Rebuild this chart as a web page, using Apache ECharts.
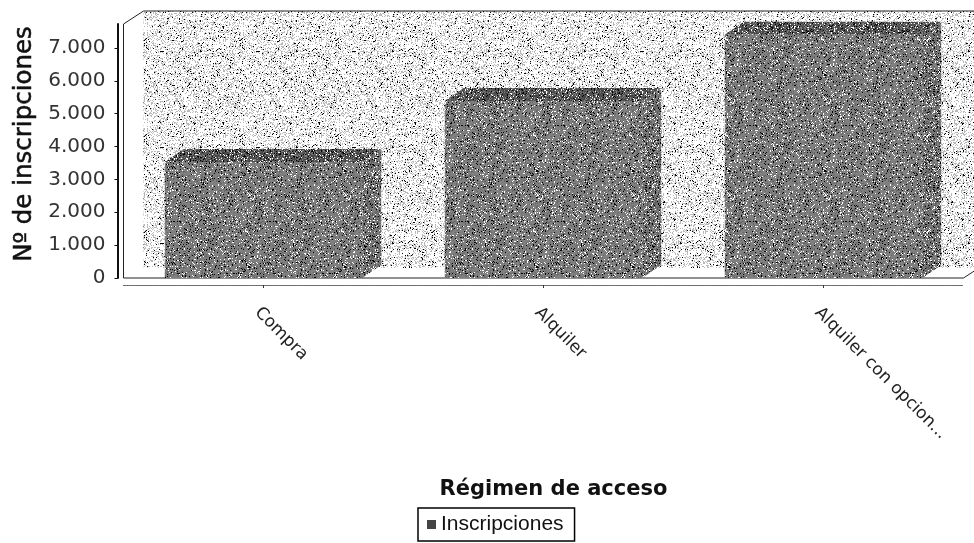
<!DOCTYPE html>
<html><head><meta charset="utf-8">
<style>html,body{margin:0;padding:0;background:#fff}#c{width:974px;height:543px}</style>
<script src="https://cdn.jsdelivr.net/npm/echarts@6/dist/echarts.min.js"></script>
</head><body><div id="c"></div>
<script>
const categories = ['Compra', 'Alquiler', 'Alquiler con opcion...'];
const inscripciones = [3530, 5390, 7400];
const yTicks = [0, 1000, 2000, 3000, 4000, 5000, 6000, 7000];
const seriesName = 'Inscripciones';
const xTitle = 'Régimen de acceso';
const yTitle = 'Nº de inscripciones';
const yMax = 7730;

const DX = 20, DY = -13;
function tile(size, palette, seed) {
  const c = document.createElement('canvas');
  c.width = c.height = size;
  const g = c.getContext('2d');
  let s = seed >>> 0;
  for (let y = 0; y < size; y++) for (let x = 0; x < size; x++) {
    s = (Math.imul(s, 1664525) + 1013904223) >>> 0;
    const h = (s >>> 16) % palette.length;
    g.fillStyle = palette[h];
    g.fillRect(x, y, 1, 1);
  }
  return { image: c, repeat: 'repeat' };
}
const W = '#fff', K = '#000', G = '#b8b8b8', D = '#808080';
const wallFill = tile(96, [W,W,W,W,W,W,W,W,W,W,W,W,W,W,G,G,G,G,G,G,K], 7);
const frontFill = tile(96, [K,W,D,D,D,'#666',D,D,D,D,'#666',D], 11);
const topFill = tile(96, [K,D,'#444',D,'#555',W,'#444','#555','#555','#444'], 23);
const sideFill = tile(96, [K,D,D,W,'#555',D,'#666',D,'#666','#666'], 37);

function renderWall(params, api) {
  const band = api.size([1, 0])[0];
  const p0 = api.coord([0, 0]), pTop = api.coord([0, yMax]);
  const L = p0[0] - band / 2, R = L + band * 3, B = p0[1], T = pTop[1];
  return { type: 'group', silent: true, children: [
    { type: 'polygon', shape: { points: [[L+DX,T+DY],[R+DX,T+DY],[R+DX,B+DY+3],[L+DX,B+DY+3]] }, style: { fill: wallFill } },
    { type: 'polygon', shape: { points: [[L,B],[L+DX,B+DY+3],[R+DX,B+DY+3],[R,B]] }, style: { fill: '#fff' } },
    { type: 'polyline', shape: { points: [[L,B],[L,T],[L+DX,T+DY],[R+DX,T+DY]] }, style: { fill: 'none', stroke: '#222', lineWidth: 1 } },
    { type: 'polyline', shape: { points: [[L,B],[R,B],[R+DX,B+DY]] }, style: { fill: 'none', stroke: '#222', lineWidth: 1 } }
  ]};
}
function renderBar(params, api) {
  const band = api.size([1, 0])[0], w = band * 0.705;
  const c = api.coord([api.value(0), api.value(1)]), b = api.coord([api.value(0), 0]);
  const x0 = c[0] - w / 2, x1 = c[0] + w / 2, t = c[1], B = b[1];
  return { type: 'group', children: [
    { type: 'polygon', shape: { points: [[x1,t],[x1+DX-1,t+DY],[x1+DX-1,B+DY],[x1,B]] }, style: { fill: sideFill } },
    { type: 'polygon', shape: { points: [[x0,t],[x0+DX-1,t+DY],[x1+DX-1,t+DY],[x1,t]] }, style: { fill: topFill } },
    { type: 'rect', shape: { x: x0, y: t, width: w, height: B - t }, style: { fill: frontFill } }
  ]};
}
const chart = echarts.init(document.getElementById('c'), null, { renderer: 'canvas' });
chart.setOption({
  animation: false,
  backgroundColor: '#fff',
  grid: { left: 123.5, top: 24, width: 840, height: 254, outerBoundsMode: 'none' },
  legend: {
    data: [{ name: seriesName, icon: 'rect', itemStyle: { color: '#444' } }],
    left: 418, top: 508, itemWidth: 9, itemHeight: 9, itemGap: 6,
    borderColor: '#000', borderWidth: 1.5, borderRadius: 0,
    padding: [6, 11, 6, 9],
    textStyle: { fontFamily: 'Liberation Sans', fontSize: 21, color: '#111', padding: [0, 0, 0, 0] }
  },
  xAxis: {
    type: 'category', data: categories, offset: 7,
    name: xTitle, nameLocation: 'middle', nameGap: 194,
    nameTextStyle: { fontFamily: 'DejaVu Sans', fontWeight: 'bold', fontSize: 21, color: '#111', padding: [0, 0, 0, 20] },
    axisLine: { onZero: false, lineStyle: { color: '#666', type: [2, 1], width: 1 } },
    axisTick: { show: true, alignWithLabel: true, length: 3, lineStyle: { color: '#333' } },
    axisLabel: { rotate: -45, interval: 0, margin: 19, align: 'left', verticalAlign: 'top', fontFamily: 'DejaVu Sans', fontSize: 17, color: '#222' }
  },
  yAxis: {
    type: 'value', min: 0, max: yMax, offset: 6,
    name: yTitle, nameLocation: 'middle', nameGap: 78,
    nameTextStyle: { fontFamily: 'DejaVu Sans', fontSize: 24.5, color: '#111', textBorderColor: '#111', textBorderWidth: 0.5, padding: [0, 0, 0, 14] },
    splitLine: { show: false },
    axisLine: { show: true, lineStyle: { color: '#111', width: 2 } },
    axisTick: { show: true, length: 3, customValues: yTicks, lineStyle: { color: '#111' } },
    axisLabel: { customValues: yTicks, margin: 12, fontFamily: 'DejaVu Sans', fontSize: 20, color: '#333',
      formatter: v => String(v).replace(/\B(?=(\d{3})+$)/g, '.') }
  },
  series: [
    { type: 'custom', name: 'pared', clip: false, z: 1, silent: true, renderItem: renderWall, data: [[0, 0]], encode: { x: 0, y: 1 } },
    { type: 'custom', name: seriesName, clip: false, z: 2, renderItem: renderBar,
      itemStyle: { color: '#555' },
      data: inscripciones.map((v, i) => [i, v]), encode: { x: 0, y: 1 } }
  ]
});
</script></body></html>
